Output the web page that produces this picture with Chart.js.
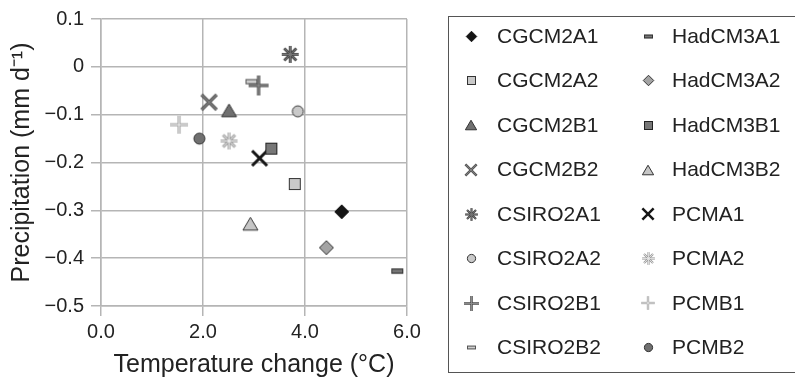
<!DOCTYPE html>
<html>
<head>
<meta charset="utf-8">
<script src="https://cdn.jsdelivr.net/npm/chart.js@4.4.1/dist/chart.umd.min.js"></script>
<style>
  html, body { margin: 0; padding: 0; background: #fff; }
  #chart { display: block; }
</style>
</head>
<body>
<canvas id="chart" width="795" height="382"></canvas>
<script>
// model runs
const models = ['CGCM2A1', 'CGCM2A2', 'CGCM2B1', 'CGCM2B2', 'CSIRO2A1', 'CSIRO2A2', 'CSIRO2B1', 'CSIRO2B2',
  'HadCM3A1', 'HadCM3A2', 'HadCM3B1', 'HadCM3B2', 'PCMA1', 'PCMA2', 'PCMB1', 'PCMB2'];
const tempChange = [4.72, 3.80, 2.51, 2.12, 3.71, 3.86, 3.09, 2.95, 5.81, 4.42, 3.34, 2.93, 3.11, 2.51, 1.53, 1.93];
const precipChange = [-0.303, -0.245, -0.091, -0.074, 0.026, -0.093, -0.039, -0.031,
  -0.427, -0.378, -0.171, -0.328, -0.191, -0.155, -0.121, -0.150];

const xTicks = [0, 2, 4, 6];
const yTicks = [0.1, 0, -0.1, -0.2, -0.3, -0.4, -0.5];

const FONT = "'Liberation Sans', Arial, Helvetica, sans-serif";

// marker look for each model (shape, fill, outline, line width, outlined stroke)
const marks = [
  { shape: 'diamond', fill: '#151515', line: '#151515' },
  { shape: 'square', fill: '#c9c9c9', line: '#333' },
  { shape: 'triangle', fill: '#707070', line: '#333' },
  { shape: 'x', fill: '#808080', line: '#4a4a4a', lw: 1.4, outlined: true },
  { shape: 'star', fill: '#777', line: '#444', lw: 1, outlined: true },
  { shape: 'circle', fill: '#c9c9c9', line: '#333' },
  { shape: 'plus', fill: '#8a8a8a', line: '#444', lw: 1.4, outlined: true, big: true },
  { shape: 'dash', fill: '#cfcfcf', line: '#555' },
  { shape: 'dash', fill: '#777', line: '#333' },
  { shape: 'diamond', fill: '#a3a3a3', line: '#333' },
  { shape: 'square', fill: '#777', line: '#222' },
  { shape: 'triangle', fill: '#c6c6c6', line: '#333' },
  { shape: 'x', fill: '#151515', line: '#151515', lw: 3 },
  { shape: 'star', fill: '#ececec', line: '#9a9a9a', lw: 1, outlined: true },
  { shape: 'plus', fill: '#ececec', line: '#9a9a9a', lw: 1.2, outlined: true }
  ,
  { shape: 'circle', fill: '#707070', line: '#333' }
];

const baseSize = { diamond: 14, square: 12, triangle: 15, circle: 11, x: 15, star: 17, plus: 18, dash: 12 };

function makeMarker(m, scale) {
  let size = baseSize[m.shape] * scale;
  if (m.big) size += 2 * scale;
  const pad = 4;
  const c = document.createElement('canvas');
  c.width = c.height = Math.ceil(size + pad * 2);
  const g = c.getContext('2d');
  const r = size / 2;
  g.translate(c.width / 2, c.height / 2);
  g.fillStyle = m.fill;
  g.strokeStyle = m.line;
  g.lineWidth = 1;
  g.lineJoin = 'miter';

  const lines = [];
  if (m.shape === 'diamond') {
    g.beginPath();
    g.moveTo(0, -r); g.lineTo(r, 0); g.lineTo(0, r); g.lineTo(-r, 0); g.closePath();
    g.fill(); g.stroke();
  } else if (m.shape === 'square') {
    g.fillRect(-r, -r, size, size);
    g.strokeRect(-r + 0.5, -r + 0.5, size - 1, size - 1);
  } else if (m.shape === 'triangle') {
    const h = size * 0.85;
    g.beginPath();
    g.moveTo(0, -h / 2); g.lineTo(r, h / 2); g.lineTo(-r, h / 2); g.closePath();
    g.fill(); g.stroke();
  } else if (m.shape === 'circle') {
    g.beginPath();
    g.arc(0, 0, r, 0, Math.PI * 2);
    g.fill(); g.stroke();
  } else if (m.shape === 'dash') {
    const hh = r * 0.42;
    g.fillRect(-r, -hh, size, hh * 2);
    g.strokeRect(-r + 0.5, -hh + 0.5, size - 1, hh * 2 - 1);
  } else {
    const d = r * 0.7071;
    if (m.shape === 'plus' || m.shape === 'star') {
      lines.push([-r, 0, r, 0], [0, -r, 0, r]);
    }
    if (m.shape === 'x') lines.push([-r, -r, r, r], [-r, r, r, -r]);
    if (m.shape === 'star') lines.push([-d, -d, d, d], [-d, d, d, -d]);
    const lw = (m.lw || 2) * Math.max(scale, 0.8);
    const pass = (col, w) => {
      g.strokeStyle = col;
      g.lineWidth = w;
      g.lineCap = 'butt';
      for (const l of lines) {
        g.beginPath(); g.moveTo(l[0], l[1]); g.lineTo(l[2], l[3]); g.stroke();
      }
    };
    if (m.outlined) {
      pass(m.line, lw + 1.8 * scale);
      pass(m.fill, lw);
    } else {
      pass(m.line, lw);
    }
  }
  return c;
}

const plotMarks = marks.map(m => makeMarker(m, 1));
const legendMarks = marks.map(m => makeMarker(m, 0.75));

// boxed two-column legend on the right
const boxLegend = {
  id: 'boxLegend',
  afterDraw(chart) {
    const ctx = chart.ctx;
    ctx.save();
    ctx.strokeStyle = '#555';
    ctx.lineWidth = 1;
    ctx.strokeRect(448.5, 16.5, 400, 356);
    ctx.font = '21px ' + FONT;
    ctx.fillStyle = '#222';
    ctx.textBaseline = 'middle';
    ctx.textAlign = 'left';
    chart.data.datasets.forEach((ds, i) => {
      const col = i < 8 ? 0 : 1;
      const row = i % 8;
      const y = 36 + row * 44.5;
      const mx = col ? 648 : 471;
      const tx = col ? 672 : 497;
      const img = legendMarks[i];
      ctx.drawImage(img, Math.round(mx - img.width / 2), Math.round(y - img.height / 2));
      ctx.fillText(ds.label, tx, y + 1);
    });
    ctx.restore();
  }
};

const fmtY = v => {
  const r = Math.round(v * 10) / 10;
  if (r === 0) return '0';
  return r < 0 ? '\u2212' + Math.abs(r).toFixed(1) : r.toFixed(1);
};

const gridColor = '#b5b5b5';

new Chart(document.getElementById('chart'), {
  type: 'scatter',
  data: {
    datasets: models.map((name, i) => ({
      label: name,
      data: [{ x: tempChange[i], y: precipChange[i] }],
      pointStyle: plotMarks[i],
      pointRadius: 8,
      pointHoverRadius: 8
    }))
  },
  options: {
    responsive: false,
    animation: false,
    devicePixelRatio: 1,
    layout: { padding: { top: 16, right: 388, left: 0, bottom: 0 } },
    plugins: {
      legend: { display: false },
      tooltip: { enabled: false }
    },
    scales: {
      x: {
        type: 'linear',
        min: 0,
        max: 6,
        afterBuildTicks: s => { s.ticks = xTicks.map(v => ({ value: v })); },
        afterFit: s => { s.height = 76; },
        ticks: {
          callback: v => Number(v).toFixed(1),
          font: { family: FONT, size: 20 },
          color: '#222',
          padding: 4,
          maxRotation: 0
        },
        grid: { color: gridColor, lineWidth: 1.5, tickLength: 10 },
        border: { color: gridColor, width: 1.5 },
        title: {
          display: true,
          text: 'Temperature change (\u00b0C)',
          font: { family: FONT, size: 25 },
          color: '#222',
          padding: { top: 0, bottom: 2 }
        }
      },
      y: {
        type: 'linear',
        min: -0.5,
        max: 0.1,
        afterBuildTicks: s => { s.ticks = yTicks.map(v => ({ value: v })); },
        afterFit: s => { s.width = 101; },
        ticks: {
          callback: fmtY,
          font: { family: FONT, size: 20 },
          color: '#222',
          padding: 7
        },
        grid: { color: gridColor, lineWidth: 1.5, tickLength: 10 },
        border: { color: gridColor, width: 1.5 },
        title: {
          display: true,
          text: 'Precipitation (mm d\u207b\u00b9)',
          font: { family: FONT, size: 25 },
          color: '#222',
          padding: { top: 7, bottom: 0 }
        }
      }
    }
  },
  plugins: [boxLegend]
});
</script>
</body>
</html>
